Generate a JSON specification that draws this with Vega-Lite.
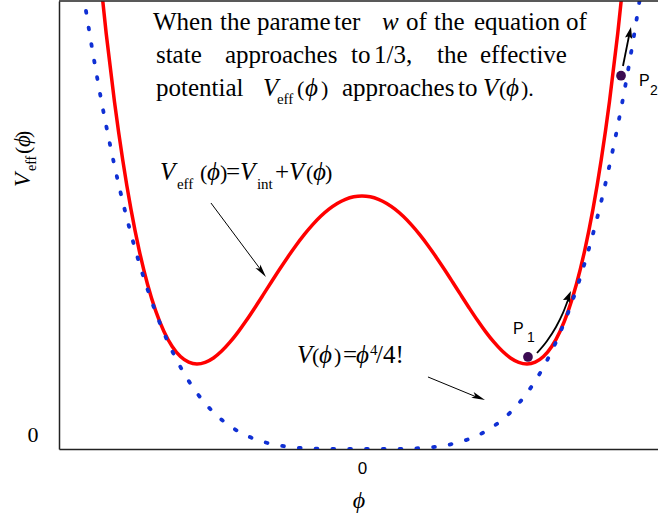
{
  "$schema": "https://vega.github.io/schema/vega-lite/v6.json",
  "width": 599,
  "height": 448,
  "autosize": {"type": "none"},
  "padding": {"left": 59, "top": 1, "right": 0, "bottom": 70},
  "background": "white",
  "config": {"view": {"stroke": null}},
  "datasets": {
    "red": [
      {"phi": -1.6, "V": 8.819}, {"phi": -1.55, "V": 7.419}, {"phi": -1.5, "V": 6.206}, {"phi": -1.45, "V": 5.165},
      {"phi": -1.4, "V": 4.283}, {"phi": -1.35, "V": 3.548}, {"phi": -1.3, "V": 2.947}, {"phi": -1.25, "V": 2.467},
      {"phi": -1.2, "V": 2.099}, {"phi": -1.15, "V": 1.83}, {"phi": -1.1, "V": 1.65}, {"phi": -1.05, "V": 1.55},
      {"phi": -1.0, "V": 1.518}, {"phi": -0.95, "V": 1.547}, {"phi": -0.9, "V": 1.626}, {"phi": -0.85, "V": 1.749},
      {"phi": -0.8, "V": 1.907}, {"phi": -0.75, "V": 2.092}, {"phi": -0.7, "V": 2.298}, {"phi": -0.65, "V": 2.519},
      {"phi": -0.6, "V": 2.747}, {"phi": -0.55, "V": 2.978}, {"phi": -0.5, "V": 3.206}, {"phi": -0.45, "V": 3.426},
      {"phi": -0.4, "V": 3.635}, {"phi": -0.35, "V": 3.828}, {"phi": -0.3, "V": 4.002}, {"phi": -0.25, "V": 4.155},
      {"phi": -0.2, "V": 4.283}, {"phi": -0.15, "V": 4.385}, {"phi": -0.1, "V": 4.458}, {"phi": -0.05, "V": 4.503},
      {"phi": 0.0, "V": 4.518},
      {"phi": 0.05, "V": 4.503}, {"phi": 0.1, "V": 4.458}, {"phi": 0.15, "V": 4.385}, {"phi": 0.2, "V": 4.283},
      {"phi": 0.25, "V": 4.155}, {"phi": 0.3, "V": 4.002}, {"phi": 0.35, "V": 3.828}, {"phi": 0.4, "V": 3.635},
      {"phi": 0.45, "V": 3.426}, {"phi": 0.5, "V": 3.206}, {"phi": 0.55, "V": 2.978}, {"phi": 0.6, "V": 2.747},
      {"phi": 0.65, "V": 2.519}, {"phi": 0.7, "V": 2.298}, {"phi": 0.75, "V": 2.092}, {"phi": 0.8, "V": 1.907},
      {"phi": 0.85, "V": 1.749}, {"phi": 0.9, "V": 1.626}, {"phi": 0.95, "V": 1.547}, {"phi": 1.0, "V": 1.518},
      {"phi": 1.05, "V": 1.55}, {"phi": 1.1, "V": 1.65}, {"phi": 1.15, "V": 1.83}, {"phi": 1.2, "V": 2.099},
      {"phi": 1.25, "V": 2.467}, {"phi": 1.3, "V": 2.947}, {"phi": 1.35, "V": 3.548}, {"phi": 1.4, "V": 4.283},
      {"phi": 1.45, "V": 5.165}, {"phi": 1.5, "V": 6.206}, {"phi": 1.55, "V": 7.419}, {"phi": 1.6, "V": 8.819}
    ],
    "blue": [
      {"phi": -1.8, "V": 10.4976}, {"phi": -1.75, "V": 9.379}, {"phi": -1.7, "V": 8.3521}, {"phi": -1.65, "V": 7.412},
      {"phi": -1.6, "V": 6.5536}, {"phi": -1.55, "V": 5.772}, {"phi": -1.5, "V": 5.0625}, {"phi": -1.45, "V": 4.4205},
      {"phi": -1.4, "V": 3.8416}, {"phi": -1.35, "V": 3.3215}, {"phi": -1.3, "V": 2.8561}, {"phi": -1.25, "V": 2.4414},
      {"phi": -1.2, "V": 2.0736}, {"phi": -1.15, "V": 1.749}, {"phi": -1.1, "V": 1.4641}, {"phi": -1.05, "V": 1.2155},
      {"phi": -1.0, "V": 1.0}, {"phi": -0.9, "V": 0.6561}, {"phi": -0.8, "V": 0.4096}, {"phi": -0.7, "V": 0.2401},
      {"phi": -0.6, "V": 0.1296}, {"phi": -0.5, "V": 0.0625}, {"phi": -0.4, "V": 0.0256}, {"phi": -0.3, "V": 0.0081},
      {"phi": -0.2, "V": 0.0016}, {"phi": -0.1, "V": 0.0001}, {"phi": 0.0, "V": 0.0},
      {"phi": 0.1, "V": 0.0001}, {"phi": 0.2, "V": 0.0016}, {"phi": 0.3, "V": 0.0081}, {"phi": 0.4, "V": 0.0256},
      {"phi": 0.5, "V": 0.0625}, {"phi": 0.6, "V": 0.1296}, {"phi": 0.7, "V": 0.2401}, {"phi": 0.8, "V": 0.4096},
      {"phi": 0.9, "V": 0.6561}, {"phi": 1.0, "V": 1.0}, {"phi": 1.05, "V": 1.2155}, {"phi": 1.1, "V": 1.4641},
      {"phi": 1.15, "V": 1.749}, {"phi": 1.2, "V": 2.0736}, {"phi": 1.25, "V": 2.4414}, {"phi": 1.3, "V": 2.8561},
      {"phi": 1.35, "V": 3.3215}, {"phi": 1.4, "V": 3.8416}, {"phi": 1.45, "V": 4.4205}, {"phi": 1.5, "V": 5.0625},
      {"phi": 1.55, "V": 5.772}, {"phi": 1.6, "V": 6.5536}, {"phi": 1.65, "V": 7.412}, {"phi": 1.7, "V": 8.3521},
      {"phi": 1.75, "V": 9.379}, {"phi": 1.8, "V": 10.4976}
    ],
    "topBorder": [
      {"phi": -1.836, "V": 8}, {"phi": 1.794, "V": 8}
    ],
    "shaftsThin": [
      {"id": "a", "phi": -0.9152, "V": 4.393}, {"id": "a", "phi": -0.6121, "V": 3.196},
      {"id": "b", "phi": 0.4, "V": 1.286}, {"id": "b", "phi": 0.7091, "V": 0.911}
    ],
    "shaftsThick": [
      {"id": "p1", "phi": 1.0606, "V": 1.714}, {"id": "p1", "phi": 1.1212, "V": 1.929}, {"id": "p1", "phi": 1.1758, "V": 2.179},
      {"id": "p1", "phi": 1.2182, "V": 2.429}, {"id": "p1", "phi": 1.2485, "V": 2.661},
      {"id": "p2", "phi": 1.5818, "V": 6.839}, {"id": "p2", "phi": 1.6182, "V": 7.375}
    ],
    "heads": [
      {"id": "a", "phi": -0.5818, "V": 3.071},
      {"id": "b", "phi": 0.7455, "V": 0.875},
      {"id": "p1", "phi": 1.2667, "V": 2.821},
      {"id": "p2", "phi": 1.6303, "V": 7.536}
    ],
    "balls": [
      {"label": "P1", "phi": 1.006, "V": 1.643},
      {"label": "P2", "phi": 1.57, "V": 6.666}
    ],
    "roman": [
      {"t": "When", "phi": -1.2667, "V": 7.482},
      {"t": "the", "phi": -0.8606, "V": 7.482},
      {"t": "parame", "phi": -0.6364, "V": 7.482},
      {"t": "ter", "phi": -0.1697, "V": 7.482},
      {"t": "of", "phi": 0.2667, "V": 7.482},
      {"t": "the", "phi": 0.4364, "V": 7.482},
      {"t": "equation", "phi": 0.6788, "V": 7.482},
      {"t": "of", "phi": 1.2364, "V": 7.482},
      {"t": "state", "phi": -1.2485, "V": 6.893},
      {"t": "approaches", "phi": -0.8303, "V": 6.893},
      {"t": "to", "phi": -0.0667, "V": 6.893},
      {"t": "1/3,", "phi": 0.0727, "V": 6.893},
      {"t": "the", "phi": 0.4545, "V": 6.893},
      {"t": "effective", "phi": 0.7152, "V": 6.893},
      {"t": "potential", "phi": -1.2485, "V": 6.304},
      {"t": "approaches", "phi": -0.1212, "V": 6.304},
      {"t": "to", "phi": 0.5818, "V": 6.304},
      {"t": "+", "phi": -0.5273, "V": 4.804},
      {"t": "=", "phi": -0.1152, "V": 1.536},
      {"t": "/4!", "phi": 0.0848, "V": 1.536}
    ],
    "parens": [
      {"t": "(", "phi": -0.3939, "V": 6.304},
      {"t": ")", "phi": -0.2485, "V": 6.304},
      {"t": "(", "phi": 0.8303, "V": 6.304},
      {"t": ").", "phi": 0.9636, "V": 6.304},
      {"t": "(", "phi": -0.9818, "V": 4.804},
      {"t": ")", "phi": -0.8606, "V": 4.804},
      {"t": "(", "phi": -0.3394, "V": 4.804},
      {"t": ")", "phi": -0.2242, "V": 4.804},
      {"t": "(", "phi": -0.303, "V": 1.536},
      {"t": ")", "phi": -0.1697, "V": 1.536}
    ],
    "eqSign": [
      {"t": "=", "phi": -0.8242, "V": 4.804}
    ],
    "italic": [
      {"t": "w", "phi": 0.1212, "V": 7.482},
      {"t": "V", "phi": -0.6, "V": 6.304},
      {"t": "ϕ", "phi": -0.3455, "V": 6.304},
      {"t": "V", "phi": 0.7333, "V": 6.304},
      {"t": "ϕ", "phi": 0.8727, "V": 6.304},
      {"t": "V", "phi": -1.2242, "V": 4.804},
      {"t": "ϕ", "phi": -0.9394, "V": 4.804},
      {"t": "V", "phi": -0.7394, "V": 4.804},
      {"t": "V", "phi": -0.4424, "V": 4.804},
      {"t": "ϕ", "phi": -0.297, "V": 4.804},
      {"t": "V", "phi": -0.3939, "V": 1.536},
      {"t": "ϕ", "phi": -0.2606, "V": 1.536},
      {"t": "ϕ", "phi": -0.0364, "V": 1.536}
    ],
    "small": [
      {"t": "eff", "phi": -0.5152, "V": 6.161},
      {"t": "eff", "phi": -1.1212, "V": 4.643},
      {"t": "int", "phi": -0.6364, "V": 4.643},
      {"t": "4", "phi": 0.0485, "V": 1.679}
    ],
    "titleItalic": [
      {"t": "V", "phi": -2.0121, "V": 4.679},
      {"t": "ϕ", "phi": -2.0121, "V": 5.393}
    ],
    "titleRoman": [
      {"t": "(", "phi": -2.0121, "V": 5.268},
      {"t": ")", "phi": -2.0121, "V": 5.554}
    ],
    "titleSmall": [
      {"t": "eff", "phi": -1.9758, "V": 4.964}
    ],
    "pLabel": [
      {"t": "P", "phi": 0.9152, "V": 2.054},
      {"t": "P", "phi": 1.6788, "V": 6.482}
    ],
    "pSub": [
      {"t": "1", "phi": 1.0, "V": 1.911},
      {"t": "2", "phi": 1.7455, "V": 6.321}
    ]
  },
  "encoding": {
    "x": {"field": "phi", "type": "quantitative", "scale": {"domain": [-1.836, 1.794], "nice": false, "zero": false},
      "axis": {"values": [0], "ticks": false, "tickSize": 0, "grid": false, "domainColor": "#222222", "domainWidth": 1.5,
        "labelFont": "Liberation Sans", "labelFontSize": 17, "labelColor": "#000000", "labelPadding": 11, "labelBaseline": "top",
        "title": "ϕ", "titleFont": "Liberation Serif", "titleFontStyle": "italic", "titleFontWeight": "normal", "titleFontSize": 24,
        "titleColor": "#000000", "titleBaseline": "alphabetic", "titleY": 58}},
    "y": {"field": "V", "type": "quantitative", "scale": {"domain": [0, 8], "nice": false, "zero": false},
      "axis": {"values": [0], "ticks": false, "tickSize": 0, "grid": false, "domainColor": "#222222", "domainWidth": 1.5,
        "labelFont": "Liberation Serif", "labelFontSize": 22, "labelColor": "#000000", "labelPadding": 21, "labelOffset": -15,
        "labelBaseline": "middle", "title": null}}
  },
  "layer": [
    {
      "data": {"name": "red"},
      "mark": {"type": "line", "color": "#ff0000", "strokeWidth": 3.5, "interpolate": "monotone", "clip": true}
    },
    {
      "data": {"name": "blue"},
      "mark": {"type": "line", "color": "#1030d4", "strokeWidth": 3.8, "strokeDash": [1.8, 15], "strokeCap": "round", "interpolate": "monotone", "clip": true}
    },
    {
      "data": {"name": "topBorder"},
      "mark": {"type": "line", "color": "#222222", "strokeWidth": 1.5}
    },
    {
      "data": {"name": "shaftsThin"},
      "mark": {"type": "line", "color": "#000000", "strokeWidth": 1},
      "encoding": {"detail": {"field": "id"}}
    },
    {
      "data": {"name": "shaftsThick"},
      "mark": {"type": "line", "color": "#000000", "strokeWidth": 1.8, "interpolate": "monotone"},
      "encoding": {"detail": {"field": "id"}}
    },
    {
      "data": {"name": "heads"},
      "transform": [{"filter": "datum.id === 'a'"}],
      "mark": {"type": "point", "shape": "M0,0L0.5,2.2L0,1.7L-0.5,2.2Z", "size": 150, "angle": 143, "filled": true, "opacity": 1, "color": "#000000"}
    },
    {
      "data": {"name": "heads"},
      "transform": [{"filter": "datum.id === 'b'"}],
      "mark": {"type": "point", "shape": "M0,0L0.5,2.2L0,1.7L-0.5,2.2Z", "size": 150, "angle": 112, "filled": true, "opacity": 1, "color": "#000000"}
    },
    {
      "data": {"name": "heads"},
      "transform": [{"filter": "datum.id === 'p1'"}],
      "mark": {"type": "point", "shape": "M0,0L0.7,2.2L0,1.8L-0.7,2.2Z", "size": 110, "angle": 24, "filled": true, "opacity": 1, "color": "#000000"}
    },
    {
      "data": {"name": "heads"},
      "transform": [{"filter": "datum.id === 'p2'"}],
      "mark": {"type": "point", "shape": "M0,0L0.7,2.2L0,1.8L-0.7,2.2Z", "size": 110, "angle": 12, "filled": true, "opacity": 1, "color": "#000000"}
    },
    {
      "data": {"name": "balls"},
      "mark": {"type": "point", "shape": "circle", "size": 95, "filled": true, "opacity": 1, "color": "#3b0b52"}
    },
    {
      "data": {"name": "roman"},
      "mark": {"type": "text", "align": "left", "baseline": "alphabetic", "font": "Liberation Serif", "fontSize": 25, "fontStyle": "normal", "color": "#000000"},
      "encoding": {"text": {"field": "t"}}
    },
    {
      "data": {"name": "parens"},
      "mark": {"type": "text", "align": "left", "baseline": "alphabetic", "font": "Liberation Serif", "fontSize": 22, "fontStyle": "normal", "color": "#000000"},
      "encoding": {"text": {"field": "t"}}
    },
    {
      "data": {"name": "eqSign"},
      "mark": {"type": "text", "align": "left", "baseline": "alphabetic", "font": "Liberation Serif", "fontSize": 25, "fontStyle": "normal", "color": "#000000"},
      "encoding": {"text": {"field": "t"}}
    },
    {
      "data": {"name": "italic"},
      "mark": {"type": "text", "align": "left", "baseline": "alphabetic", "font": "Liberation Serif", "fontSize": 25, "fontStyle": "italic", "color": "#000000"},
      "encoding": {"text": {"field": "t"}}
    },
    {
      "data": {"name": "small"},
      "mark": {"type": "text", "align": "left", "baseline": "alphabetic", "font": "Liberation Serif", "fontSize": 15, "fontStyle": "normal", "color": "#000000"},
      "encoding": {"text": {"field": "t"}}
    },
    {
      "data": {"name": "titleItalic"},
      "mark": {"type": "text", "align": "left", "baseline": "alphabetic", "angle": 270, "font": "Liberation Serif", "fontSize": 23, "fontStyle": "italic", "color": "#000000"},
      "encoding": {"text": {"field": "t"}}
    },
    {
      "data": {"name": "titleRoman"},
      "mark": {"type": "text", "align": "left", "baseline": "alphabetic", "angle": 270, "font": "Liberation Serif", "fontSize": 22, "fontStyle": "normal", "color": "#000000"},
      "encoding": {"text": {"field": "t"}}
    },
    {
      "data": {"name": "titleSmall"},
      "mark": {"type": "text", "align": "left", "baseline": "alphabetic", "angle": 270, "font": "Liberation Serif", "fontSize": 14, "fontStyle": "normal", "color": "#000000"},
      "encoding": {"text": {"field": "t"}}
    },
    {
      "data": {"name": "pLabel"},
      "mark": {"type": "text", "align": "left", "baseline": "alphabetic", "font": "Liberation Sans", "fontSize": 16, "color": "#000000"},
      "encoding": {"text": {"field": "t"}}
    },
    {
      "data": {"name": "pSub"},
      "mark": {"type": "text", "align": "left", "baseline": "alphabetic", "font": "Liberation Sans", "fontSize": 14, "color": "#000000"},
      "encoding": {"text": {"field": "t"}}
    }
  ]
}
